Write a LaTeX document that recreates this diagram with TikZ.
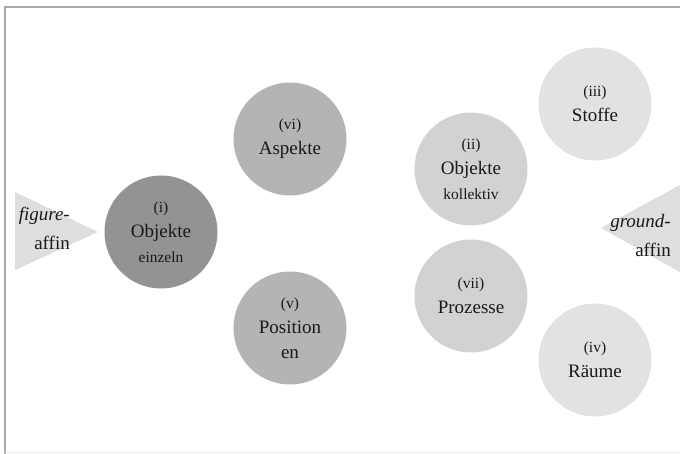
\documentclass[tikz,border=0pt]{standalone}
\usepackage{fontspec}
\setmainfont{Liberation Serif}
\definecolor{cdark}{HTML}{939393}
\definecolor{cmid}{HTML}{B4B4B4}
\definecolor{clight}{HTML}{D2D2D2}
\definecolor{cpale}{HTML}{E2E2E2}
\definecolor{ctri}{HTML}{DEDEDE}
\definecolor{cframe}{HTML}{A8A8A8}
\newcommand{\sm}[1]{{\fontsize{15.5}{25}\selectfont #1}}
\tikzset{
  blob/.style={circle, minimum size=113pt, inner sep=0pt, align=center,
    font=\fontsize{19}{25}\selectfont, text=black!90},
  side/.style={align=right, font=\fontsize{19}{29}\selectfont, text=black!90, inner sep=0pt}
}
\begin{document}
\begin{tikzpicture}[x=1pt,y=-1pt]
\useasboundingbox (0,0) rectangle (680,454);
\fill[white] (0,0) rectangle (680,454);
% frame
\draw[cframe, line width=1.3pt] (680,7) -- (5,7) -- (5,454);
\draw[black!8, line width=0.8pt] (5,452) -- (680,452);
% triangles
\coordinate (lt1) at (15,192);
\coordinate (lt2) at (98,232);
\coordinate (lt3) at (15,270);
\fill[ctri] (lt1) -- (lt2) -- (lt3) -- cycle;
\coordinate (rt1) at (680,185);
\coordinate (rt2) at (601,228);
\coordinate (rt3) at (680,272);
\fill[ctri] (rt1) -- (rt2) -- (rt3) -- cycle;
% circles
\node[blob, fill=cdark] (i) at (161,232) {\sm{(i)}\\Objekte\\\sm{einzeln}};
\node[blob, fill=cmid] (vi) at (290,139) {\sm{(vi)}\\Aspekte};
\node[blob, fill=cmid] (v) at (290,328) {\sm{(v)}\\Position\\en};
\node[blob, fill=clight] (ii) at (471,169) {\sm{(ii)}\\Objekte\\\sm{kollektiv}};
\node[blob, fill=clight] (vii) at (471,296) {\sm{(vii)}\\Prozesse};
\node[blob, fill=cpale] (iii) at (595,104) {\sm{(iii)}\\Stoffe};
\node[blob, fill=cpale] (iv) at (595,360) {\sm{(iv)}\\R\"aume};
% side labels
\node[side, anchor=east] (fa) at (70,228) {\textit{figure-}\\affin};
\node[side, anchor=east] (ga) at (671,236) {\textit{ground-}\\affin};
\end{tikzpicture}
\end{document}
